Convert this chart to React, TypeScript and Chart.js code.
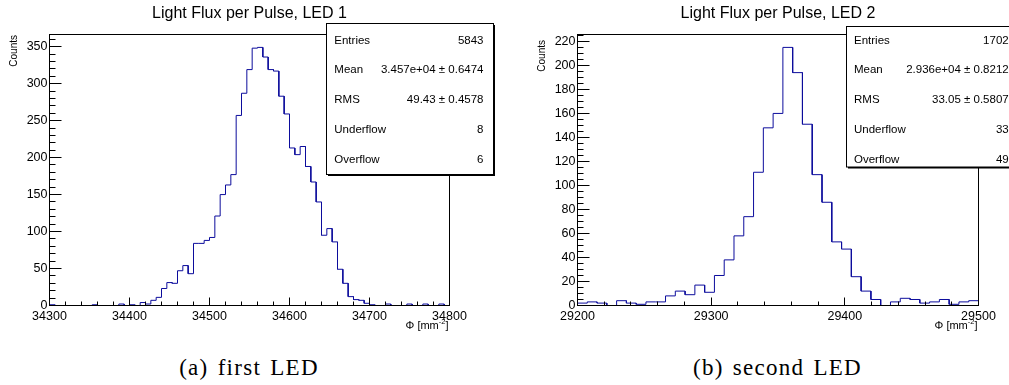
import React, { useEffect, useRef } from 'react';
import { Chart, registerables } from 'chart.js';

Chart.register(...registerables);

// ---- Histogram contents (fixed-width bins spanning each range) ----
const led1Range = [34300, 34800];
const led1Counts = [
  1, 0, 0, 0, 0, 0, 0, 0, 1, 0,
  0, 0, 0, 2, 0, 1, 0, 4, 2, 7,
  11, 23, 31, 30, 47, 54, 43, 84, 84, 88,
  92, 121, 150, 163, 177, 257, 287, 319, 348, 349,
  336, 319, 317, 283, 259, 213, 204, 215, 188, 167,
  140, 95, 104, 86, 49, 30, 12, 8, 7, 3,
  1, 0, 0, 2, 0, 0, 0, 2, 0, 0,
  2, 0, 0, 2, 0,
];

const led2Range = [29200, 29500];
const led2Counts = [
  2, 3, 2, 0, 4, 2, 1, 3, 3, 8,
  12, 9, 17, 11, 25, 38, 58, 74, 111, 148,
  160, 215, 194, 151, 109, 86, 53, 47, 24, 12,
  5, 0, 3, 6, 5, 2, 3, 5, 1, 3,
  4,
];

// ---- Axis tick labels ----
const led1XTicks = [34300, 34400, 34500, 34600, 34700, 34800];
const led1YTicks = [0, 50, 100, 150, 200, 250, 300, 350];
const led2XTicks = [29200, 29300, 29400, 29500];
const led2YTicks = [0, 20, 40, 60, 80, 100, 120, 140, 160, 180, 200, 220];

// ---- Statistics boxes ----
const statLabels = ['Entries', 'Mean', 'RMS', 'Underflow', 'Overflow'];
const led1Stats = ['5843', '3.457e+04 \u00b1 0.6474', '49.43 \u00b1 0.4578', '8', '6'];
const led2Stats = ['1702', '2.936e+04 \u00b1 0.8212', '33.05 \u00b1 0.5807', '33', '49'];

const titles = ['Light Flux per Pulse, LED 1', 'Light Flux per Pulse, LED 2'];
const captions = ['(a) first LED', '(b) second LED'];
const yTitle = 'Counts';

const SANS = '"Liberation Sans", Arial, Helvetica, sans-serif';
const LINE_COLOR = '#0c0c9c';
const CANVAS_H = 340;
const X_AXIS_H = 30;

type Panel = {
  title: string;
  range: number[];
  counts: number[];
  xTicks: number[];
  yTicks: number[];
  stats: string[];
  xMinor: number;
  yMinor: number;
  left: number;
  width: number;
  frame: { l: number; r: number; t: number; b: number };
  box: { x: number; y: number; w: number; h: number };
  statLabelX: number;
  statValueX: number;
  yTitleTop: number;
};

const panels: Panel[] = [
  {
    title: titles[0], range: led1Range, counts: led1Counts,
    xTicks: led1XTicks, yTicks: led1YTicks, stats: led1Stats,
    xMinor: 20, yMinor: 10,
    left: 0, width: 505,
    frame: { l: 49.5, r: 449.5, t: 34.5, b: 305.5 },
    box: { x: 326.5, y: 23.5, w: 167, h: 151 },
    statLabelX: 334.3, statValueX: 483.5, yTitleTop: 35,
  },
  {
    title: titles[1], range: led2Range, counts: led2Counts,
    xTicks: led2XTicks, yTicks: led2YTicks, stats: led2Stats,
    xMinor: 20, yMinor: 5,
    left: 505, width: 504,
    frame: { l: 72.5, r: 473.5, t: 34.5, b: 305.5 },
    box: { x: 341.5, y: 26.5, w: 170, h: 140.5 },
    statLabelX: 349, statValueX: 503.7, yTitleTop: 40,
  },
];

// Frame, inward tick marks, stats box and titles in the ROOT canvas style.
function rootStylePlugin(p: Panel, yMax: number) {
  return {
    id: 'rootStyle',
    afterDraw(chart: any) {
      const ctx: CanvasRenderingContext2D = chart.ctx;
      const { left, right, top, bottom } = chart.chartArea;
      const xs = chart.scales.x;
      const ys = chart.scales.y;
      const [lo, hi] = p.range;
      ctx.save();
      ctx.strokeStyle = '#000';
      ctx.lineWidth = 1;
      ctx.strokeRect(left, top, right - left, bottom - top);

      ctx.beginPath();
      const nx = Math.round((hi - lo) / p.xMinor);
      for (let i = 0; i <= nx; i++) {
        const v = lo + i * p.xMinor;
        const x = Math.floor(xs.getPixelForValue(v)) + 0.5;
        const len = p.xTicks.includes(v) ? 8 : 4;
        ctx.moveTo(x, bottom);
        ctx.lineTo(x, bottom - len);
      }
      const ny = Math.floor(yMax / p.yMinor);
      for (let i = 0; i <= ny; i++) {
        const v = i * p.yMinor;
        const y = Math.floor(ys.getPixelForValue(v)) + 0.5;
        const len = p.yTicks.includes(v) ? 12 : 6;
        ctx.moveTo(left, y);
        ctx.lineTo(left + len, y);
      }
      ctx.stroke();

      // statistics box with drop shadow
      const b = p.box;
      ctx.fillStyle = '#000';
      ctx.fillRect(b.x + 1.5, b.y + 1.5, b.w, b.h);
      ctx.fillStyle = '#fff';
      ctx.fillRect(b.x, b.y, b.w, b.h);
      ctx.strokeRect(b.x, b.y, b.w, b.h);
      ctx.fillStyle = '#000';
      ctx.font = `11.5px ${SANS}`;
      ctx.textBaseline = 'alphabetic';
      statLabels.forEach((label, i) => {
        const y = 43.5 + i * 29.8;
        ctx.textAlign = 'left';
        ctx.fillText(label, p.statLabelX, y);
        ctx.textAlign = 'right';
        ctx.fillText(p.stats[i], p.statValueX, y);
      });

      // histogram title
      ctx.font = `16px ${SANS}`;
      ctx.textAlign = 'center';
      ctx.fillText(p.title, (left + right) / 2, 18.3);

      // x axis title with superscript
      const base = 328.5;
      const f1 = `11px ${SANS}`;
      const f2 = `7.5px ${SANS}`;
      ctx.font = f1;
      const w1 = ctx.measureText('\u03a6 [mm').width;
      const w3 = ctx.measureText(']').width;
      ctx.font = f2;
      const w2 = ctx.measureText('-2').width;
      let x0 = right - 1 - (w1 + w2 + w3);
      ctx.textAlign = 'left';
      ctx.font = f1;
      ctx.fillText('\u03a6 [mm', x0, base);
      x0 += w1;
      ctx.font = f2;
      ctx.fillText('-2', x0, base - 4.5);
      x0 += w2;
      ctx.font = f1;
      ctx.fillText(']', x0, base);

      // y axis title, rotated, aligned to the top of the axis
      ctx.translate(left - 35.5, p.yTitleTop);
      ctx.rotate(-Math.PI / 2);
      ctx.font = `10px ${SANS}`;
      ctx.textAlign = 'right';
      ctx.textBaseline = 'middle';
      ctx.fillText(yTitle, 0, 0);
      ctx.restore();
    },
  };
}

function HistPanel({ p }: { p: Panel }) {
  const ref = useRef<HTMLCanvasElement>(null);
  useEffect(() => {
    const canvas = ref.current;
    if (!canvas) return;
    const [lo, hi] = p.range;
    const binW = (hi - lo) / p.counts.length;
    const points: { x: number; y: number }[] = [];
    p.counts.forEach((c, i) => {
      points.push({ x: lo + i * binW, y: c }, { x: lo + (i + 1) * binW, y: c });
    });
    const yMax = Math.max(...p.counts) * 1.05;
    const tickFont = { family: SANS, size: 12.5 };

    const chart = new Chart(canvas, {
      type: 'line',
      data: {
        datasets: [
          {
            data: points,
            borderColor: LINE_COLOR,
            borderWidth: 1,
            pointRadius: 0,
            tension: 0,
            fill: false,
          },
        ],
      },
      options: {
        animation: false,
        responsive: false,
        devicePixelRatio: 1,
        events: [],
        layout: {
          padding: {
            left: 0,
            top: p.frame.t,
            right: p.width - p.frame.r,
            bottom: CANVAS_H - p.frame.b - X_AXIS_H,
          },
        },
        plugins: {
          legend: { display: false },
          tooltip: { enabled: false },
          title: { display: false },
        },
        scales: {
          x: {
            type: 'linear',
            min: lo,
            max: hi,
            grid: { display: false, drawTicks: false },
            border: { display: false },
            afterBuildTicks: (s: any) => {
              s.ticks = p.xTicks.map((v) => ({ value: v }));
            },
            afterFit: (s: any) => {
              s.height = X_AXIS_H;
            },
            ticks: {
              autoSkip: false,
              maxRotation: 0,
              minRotation: 0,
              padding: 3.5,
              color: '#000',
              font: tickFont,
              callback: (v: any) => String(v),
            },
          },
          y: {
            type: 'linear',
            min: 0,
            max: yMax,
            grid: { display: false, drawTicks: false },
            border: { display: false },
            afterBuildTicks: (s: any) => {
              s.ticks = p.yTicks.map((v) => ({ value: v }));
            },
            afterFit: (s: any) => {
              s.width = p.frame.l;
            },
            ticks: {
              autoSkip: false,
              padding: 2,
              color: '#000',
              font: tickFont,
              callback: (v: any) => String(v),
            },
          },
        },
      },
      plugins: [rootStylePlugin(p, yMax)],
    } as any);
    return () => chart.destroy();
  }, [p]);

  return (
    <canvas
      ref={ref}
      width={p.width}
      height={CANVAS_H}
      style={{ position: 'absolute', left: p.left, top: 0, display: 'block' }}
    />
  );
}

const captionStyle: React.CSSProperties = {
  position: 'absolute',
  top: 356,
  textAlign: 'center',
  fontFamily: '"Liberation Serif", "Times New Roman", serif',
  fontSize: 23,
  lineHeight: '23px',
  letterSpacing: '1.3px',
  wordSpacing: '2px',
  color: '#000',
  whiteSpace: 'nowrap',
};

export default function App() {
  return (
    <div
      style={{
        position: 'absolute',
        left: 0,
        top: 0,
        width: 1009,
        height: 385,
        background: '#fff',
        overflow: 'hidden',
      }}
    >
      {panels.map((p, i) => (
        <HistPanel key={i} p={p} />
      ))}
      <div style={{ ...captionStyle, left: 0, width: 498 }}>{captions[0]}</div>
      <div style={{ ...captionStyle, left: 557, width: 441 }}>{captions[1]}</div>
    </div>
  );
}
